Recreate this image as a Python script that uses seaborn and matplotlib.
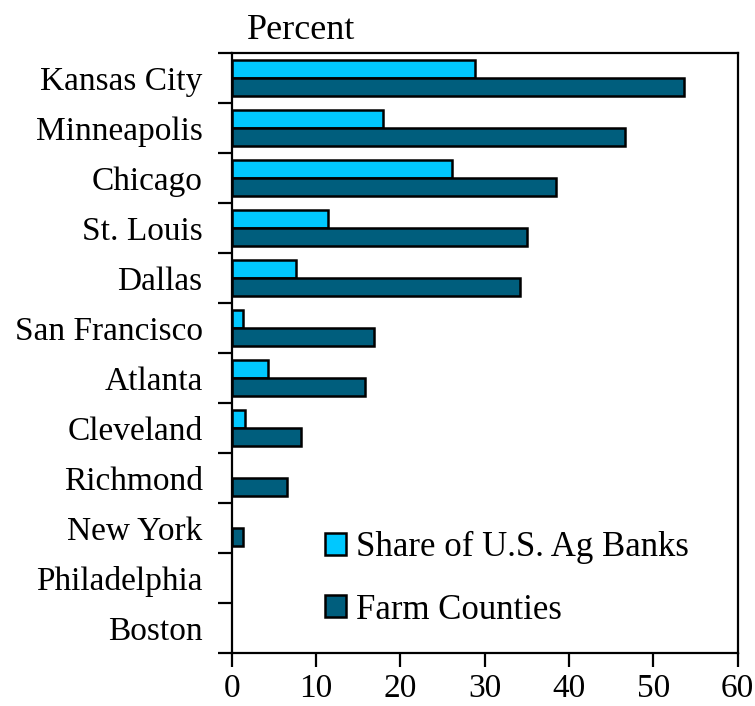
import pandas as pd
import matplotlib.pyplot as plt
import seaborn as sns
from matplotlib.ticker import FixedLocator

districts = ["Kansas City", "Minneapolis", "Chicago", "St. Louis", "Dallas",
             "San Francisco", "Atlanta", "Cleveland", "Richmond", "New York",
             "Philadelphia", "Boston"]
ag_banks = [28.9, 17.9, 26.1, 11.4, 7.6, 1.3, 4.3, 1.6, 0.0, 0.0, 0.0, 0.0]
farm_counties = [53.6, 46.6, 38.4, 35.0, 34.2, 16.9, 15.8, 8.2, 6.6, 1.3, 0.0, 0.0]
series = ["Share of U.S. Ag Banks", "Farm Counties"]
colors = ["#00C8FF", "#005E7D"]

df = pd.DataFrame({
    "district": districts * 2,
    "value": ag_banks + farm_counties,
    "series": [series[0]] * len(districts) + [series[1]] * len(districts),
})

sns.set_style("white")
plt.rcParams["font.family"] = ["Liberation Serif", "DejaVu Serif"]
plt.rcParams["font.size"] = 24
plt.rcParams["text.color"] = "black"
plt.rcParams["xtick.color"] = "black"
plt.rcParams["ytick.color"] = "black"

fig = plt.figure(figsize=(7.55, 7.06), dpi=100)
ax = fig.add_axes([0.307, 0.075, 0.670, 0.850])

sns.barplot(data=df, y="district", x="value", hue="series", order=districts,
            hue_order=series, palette=colors, width=0.72, gap=0,
            edgecolor="black", linewidth=1.8, saturation=1, ax=ax)

ax.set_xlim(0, 60)
ax.set_xticks(range(0, 61, 10))
ax.set_ylim(len(districts) - 0.5, -0.5)
ax.set_xlabel("")
ax.set_ylabel("")

for s in ax.spines.values():
    s.set_color("black")
    s.set_linewidth(1.6)

# ticks sit between the categories, labels at the centres
ax.yaxis.set_minor_locator(FixedLocator([i + 0.5 for i in range(-1, len(districts))]))
ax.tick_params(axis="y", which="major", length=0, pad=21, labelsize=24)
ax.tick_params(axis="y", which="minor", left=True, length=10, width=1.6, direction="out")
ax.tick_params(axis="x", bottom=True, length=10, width=1.6, direction="out", pad=5, labelsize=24)

ax.text(0.03, 1.01, "Percent", transform=ax.transAxes, fontsize=26, va="bottom", ha="left")

handles, labels = ax.get_legend_handles_labels()
ax.legend(handles, labels, loc="lower left", bbox_to_anchor=(0.15, 0.015), frameon=False,
          fontsize=25, handlelength=0.6, handleheight=0.6, handletextpad=0.3,
          labelspacing=0.85, borderpad=0)

# empty bars should not leave an outline on the axis (after the legend copied the style)
for p in ax.patches:
    if p.get_width() == 0:
        p.set_linewidth(0)

fig.savefig("out.png", dpi=100)
